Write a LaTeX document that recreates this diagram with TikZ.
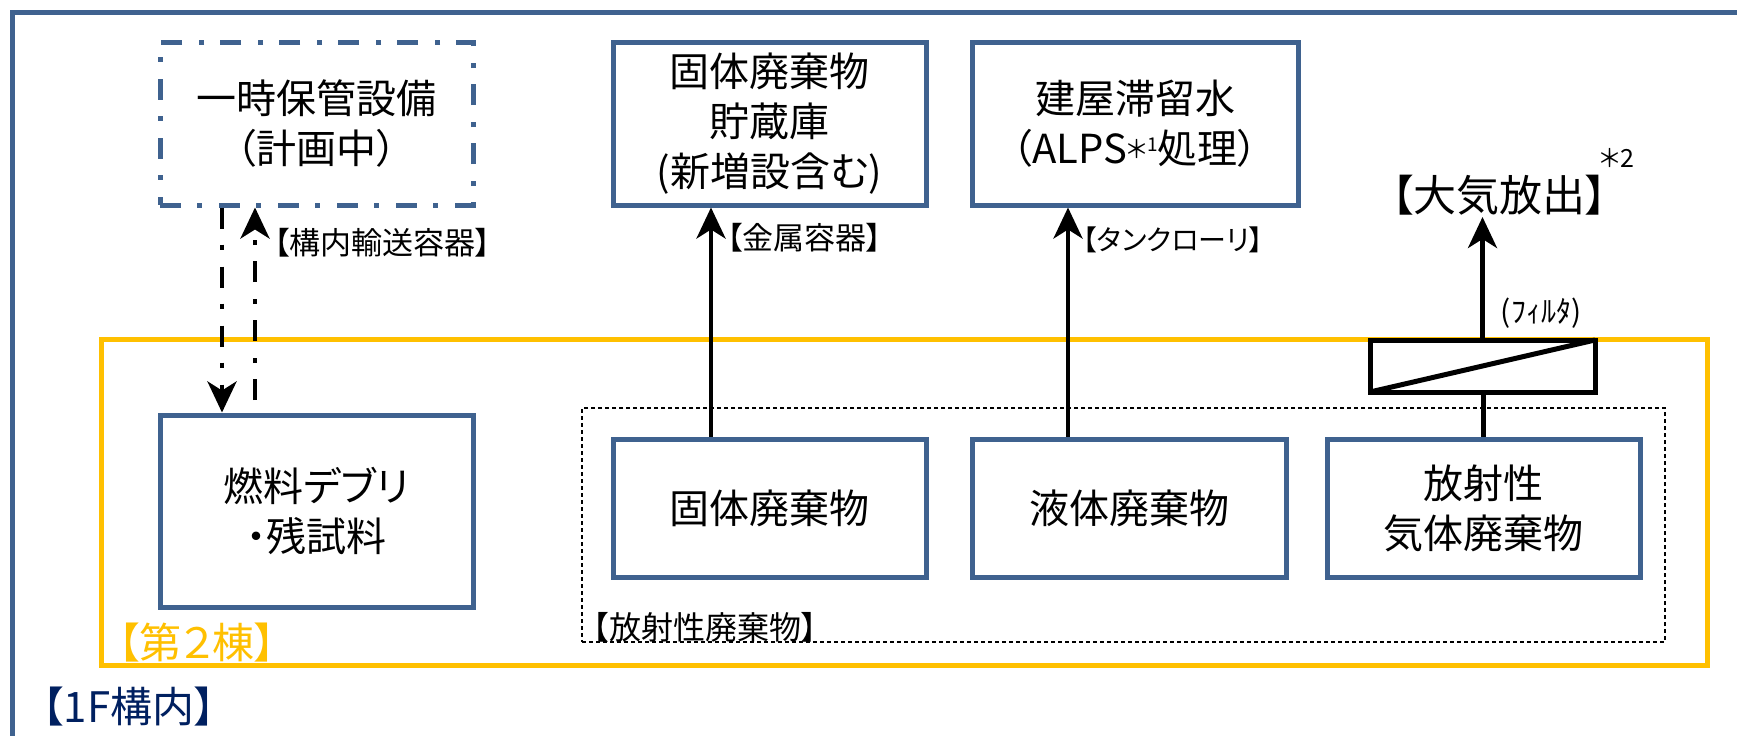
\documentclass[tikz,border=0pt]{standalone}
\usepackage{fontspec}
\setmainfont{Noto Sans CJK JP}[RawFeature=+palt]
\usetikzlibrary{arrows.meta}
\definecolor{boxblue}{RGB}{63,98,143}
\definecolor{ylw}{RGB}{255,192,0}
\definecolor{navy}{RGB}{0,32,96}
\tikzset{
  box/.style={draw=boxblue, line width=5pt, fill=white, align=center, inner sep=0pt,
    font={\fontsize{40pt}{50pt}\selectfont}, minimum width=313pt},
  ddash/.style={dash pattern=on 21pt off 16pt on 5pt off 17pt},
  arr/.style={line width=4.5pt, -{Stealth[length=31pt,width=29pt,inset=9pt]}},
  conn/.style={line width=4.5pt},
  lbl/.style={font={\fontsize{31pt}{36pt}\selectfont}, inner sep=0pt, anchor=west},
  biglbl/.style={font={\fontsize{43pt}{43pt}\selectfont}, inner sep=0pt},
}
\begin{document}
\begin{tikzpicture}[x=1pt,y=-1pt]
\useasboundingbox (0,0) rectangle (1737,736);
\fill[white] (0,0) rectangle (1737,736);
% outer frame (1F site)
\coordinate (fA) at (12,736);
\coordinate (fB) at (12,12);
\coordinate (fC) at (1737,12);
\draw[boxblue, line width=5pt] (fA) -- (fB) -- (fC);
% building 2
\node[draw=ylw, line width=5pt, minimum width=1606pt, minimum height=326pt, inner sep=0pt] (bldg) at (904,502) {};
% radioactive waste group
\node[draw=black, line width=1.3pt, dash pattern=on 4pt off 3pt, minimum width=1083pt, minimum height=234pt, inner sep=0pt] (grp) at (1123.5,525) {};
% boxes
\node[box, ddash, minimum height=163pt] (tmp) at (316.5,123.5) {一時保管設備\\（計画中）};
\node[box, minimum height=163pt] (store) at (769.5,123.5) {固体廃棄物\\貯蔵庫\\(新増設含む)};
\node[box, minimum width=326pt, minimum height=163pt] (water) at (1135,123.5) {建屋滞留水\\（ALPS\raisebox{5pt}{\fontsize{25pt}{25pt}\selectfont ＊}\raisebox{12pt}{\fontsize{19pt}{19pt}\selectfont 1}処理）};
\node[box, minimum height=192pt] (debris) at (316.5,511) {燃料デブリ\\・残試料};
\node[box, minimum height=138pt] (solid) at (769.5,508) {固体廃棄物};
\node[box, minimum width=314pt, minimum height=138pt] (liquid) at (1129,508) {液体廃棄物};
\node[box, minimum height=138pt] (gas) at (1483.5,508) {放射性\\気体廃棄物};
\node[draw=black, line width=5pt, fill=white, minimum width=225pt, minimum height=52pt, inner sep=0pt, outer sep=0pt] (filter) at (1482.5,366) {};
\draw[line width=5pt] (filter.south west) -- (filter.north east);
% connectors
\coordinate (dnx) at (222,0);
\coordinate (upx) at (255,0);
\coordinate (upstart) at (255,400);
\draw[arr, ddash] (tmp.south -| dnx) -- (debris.north -| dnx);
\draw[arr, ddash] (upstart) -- (tmp.south -| upx);
\coordinate (sdx) at (711,0);
\coordinate (lqx) at (1068,0);
\draw[arr] (solid.north -| sdx) -- (store.south -| sdx);
\draw[arr] (liquid.north -| lqx) -- (water.south -| lqx);
\draw[conn] (gas.north) -- (gas.north |- filter.south);
\coordinate (airtip) at (1482.5,217);
\draw[arr] (filter.north) -- (airtip);
% labels
\node[lbl] (l1) at (274,243) {【構内輸送容器】};
\node[lbl] (l2) at (727,238) {【金属容器】};
\node[lbl, font={\fontsize{28pt}{34pt}\selectfont}] (l3) at (1083,240) {【タンクローリ】};
\node[biglbl, anchor=west] (air) at (1392,182) {【大気放出】\hspace{-7pt}\raisebox{44pt}{\fontsize{25pt}{25pt}\selectfont ＊2}};
\node[font={\fontsize{30pt}{30pt}\selectfont}, inner sep=0pt] (flt) at (1541,313) {(ﾌｨﾙﾀ)};
\node[font={\fontsize{42pt}{42pt}\selectfont}, text=ylw, inner sep=0pt] (b2) at (197,643) {【第２棟】};
\node[lbl, font={\fontsize{32pt}{36pt}\selectfont}] (rw) at (593,627) {【放射性廃棄物】};
\node[font={\fontsize{42pt}{42pt}\selectfont}, text=navy, inner sep=0pt] (f1) at (129,707) {【1F構内】};
\end{tikzpicture}
\end{document}
